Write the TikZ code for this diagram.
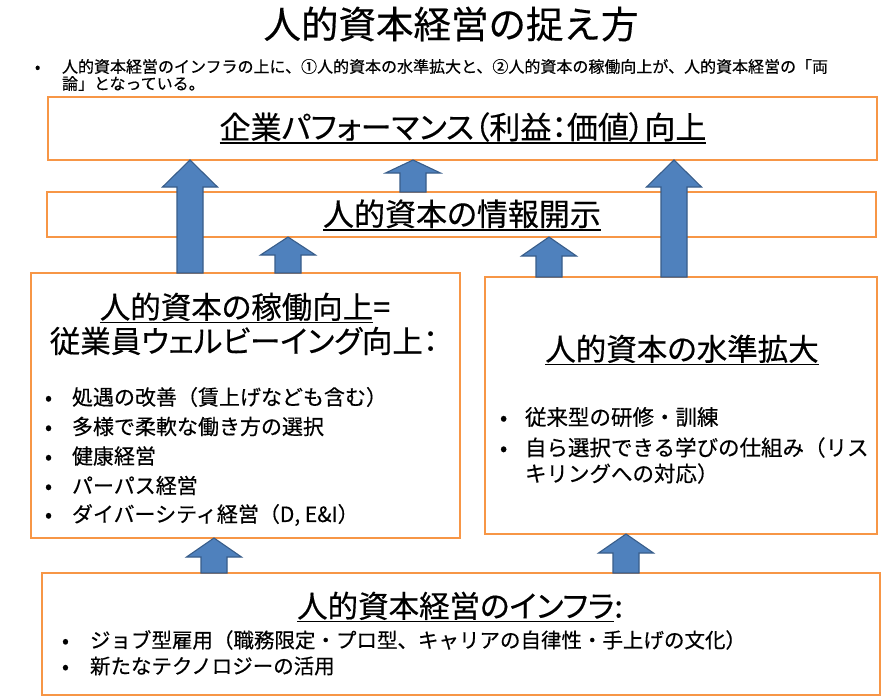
\documentclass[tikz,border=0pt]{standalone}
\usepackage{fontspec}
\setmainfont{Noto Sans CJK JP}[FakeBold=0.4]
\newfontfamily\propfont{Noto Sans CJK JP}[RawFeature=+palt,FakeBold=0.4]
\usetikzlibrary{calc}
\definecolor{boxorange}{HTML}{F79646}
\definecolor{arrowblue}{HTML}{4F81BD}
\definecolor{arrowedge}{HTML}{385D8A}
\newcommand{\undl}[1]{\setbox0\hbox{#1}\rlap{\rule[-0.16em]{\wd0}{0.05em}}\box0}
\newcommand{\bul}[1][27pt]{\makebox[#1][l]{•}}
% block arrow: x position, head length, lower node, upper node
\newcommand{\blockup}[4]{%
  \draw[blockarrow] let \p1=(#1,0), \p2=(#3.north), \p3=(#4.south) in
    (\x1-13pt,\y2) -- (\x1-13pt,\y3-#2pt) -- (\x1-27.5pt,\y3-#2pt) -- (\x1,\y3)
    -- (\x1+27.5pt,\y3-#2pt) -- (\x1+13pt,\y3-#2pt) -- (\x1+13pt,\y2) -- cycle;}

\begin{document}
\begin{tikzpicture}[x=1pt,y=-1pt,
    every node/.style={inner sep=0pt,outer sep=0pt,text=black},
    panel/.style={draw=boxorange,line width=1.6pt,fill=white},
    blockarrow/.style={fill=arrowblue,draw=arrowedge,line width=1.1pt,line join=miter},
    headfont/.style={font=\fontsize{37.5pt}{40pt}\selectfont},
    introfont/.style={font=\fontsize{16pt}{17pt}\selectfont,align=left},
    titlefont/.style={font=\propfont\fontsize{30.5pt}{34pt}\selectfont},
    itemfont/.style={font=\fontsize{21pt}{26pt}\selectfont,align=left,anchor=west}]
    \useasboundingbox (0,0) rectangle (886,698);
    \fill[white] (0,0) rectangle (886,698);

    \node[headfont] (head) at (451,24) {人的資本経営の捉え方};
    \node[introfont,anchor=west] (intro) at (35,75) {\bul 人的資本経営のインフラの上に、①人的資本の水準拡大と、②人的資本の稼働向上が、人的資本経営の「両\\\hspace*{27pt}論」となっている。};

    \node[panel,minimum width=829pt,minimum height=63pt] (perf) at (462.5,128.5) {};
    \node[panel,minimum width=829pt,minimum height=45pt] (disc) at (461.5,214.5) {};
    \node[panel,minimum width=429pt,minimum height=265pt] (util) at (245.5,405.5) {};
    \node[panel,minimum width=392pt,minimum height=257pt] (level) at (681,405.5) {};
    \node[panel,minimum width=838pt,minimum height=122pt] (infra) at (461,634) {};

    \node[titlefont,font=\propfont\fontsize{31pt}{34pt}\selectfont] (perftext) at (463,128) {\undl{企業パフォーマンス（利益：価値）向上}};
    \node[titlefont,font=\propfont\fontsize{31pt}{34pt}\selectfont] (disctext) at (462,215) {\undl{人的資本の情報開示}};

    \node[titlefont] (utiltitle) at (245,308) {\undl{人的資本の稼働向上}=};
    \node[titlefont] (utilsub) at (244,341) {従業員ウェルビーイング向上：};
    \node[itemfont] (u1) at (45,397) {\bul 処遇の改善（賃上げなども含む）};
    \node[itemfont] (u2) at (45,426.5) {\bul 多様で柔軟な働き方の選択};
    \node[itemfont] (u3) at (45,456) {\bul 健康経営};
    \node[itemfont] (u4) at (45,485.5) {\bul パーパス経営};
    \node[itemfont] (u5) at (45,515) {\bul ダイバーシティ経営（D, E\&I）};

    \node[titlefont] (leveltitle) at (682,350) {\undl{人的資本の水準拡大}};
    \node[itemfont,font=\fontsize{21.5pt}{26pt}\selectfont] (l1) at (500,417) {\bul[25pt]従来型の研修・訓練};
    \node[itemfont,font=\fontsize{21.5pt}{26pt}\selectfont] (l2) at (500,460.5) {\bul[25pt]自ら選択できる学びの仕組み（リス\\\hspace*{25pt}キリングへの対応）};

    \node[titlefont] (infratitle) at (460,607) {\undl{人的資本経営のインフラ}:};
    \node[itemfont,font=\fontsize{20.5pt}{26pt}\selectfont] (i1) at (62,640) {\bul[28pt]ジョブ型雇用（職務限定・プロ型、キャリアの自律性・手上げの文化）};
    \node[itemfont,font=\fontsize{20.5pt}{26pt}\selectfont] (i2) at (62,666) {\bul[28pt]新たなテクノロジーの活用};

    \blockup{413}{13}{disc}{perf}
    \blockup{288}{18}{util}{disc}
    \blockup{549}{19}{level}{disc}
    \blockup{190}{27}{util}{perf}
    \blockup{674}{27}{level}{perf}
    \blockup{214}{19}{infra}{util}
    \blockup{626}{19}{infra}{level}
\end{tikzpicture}
\end{document}
